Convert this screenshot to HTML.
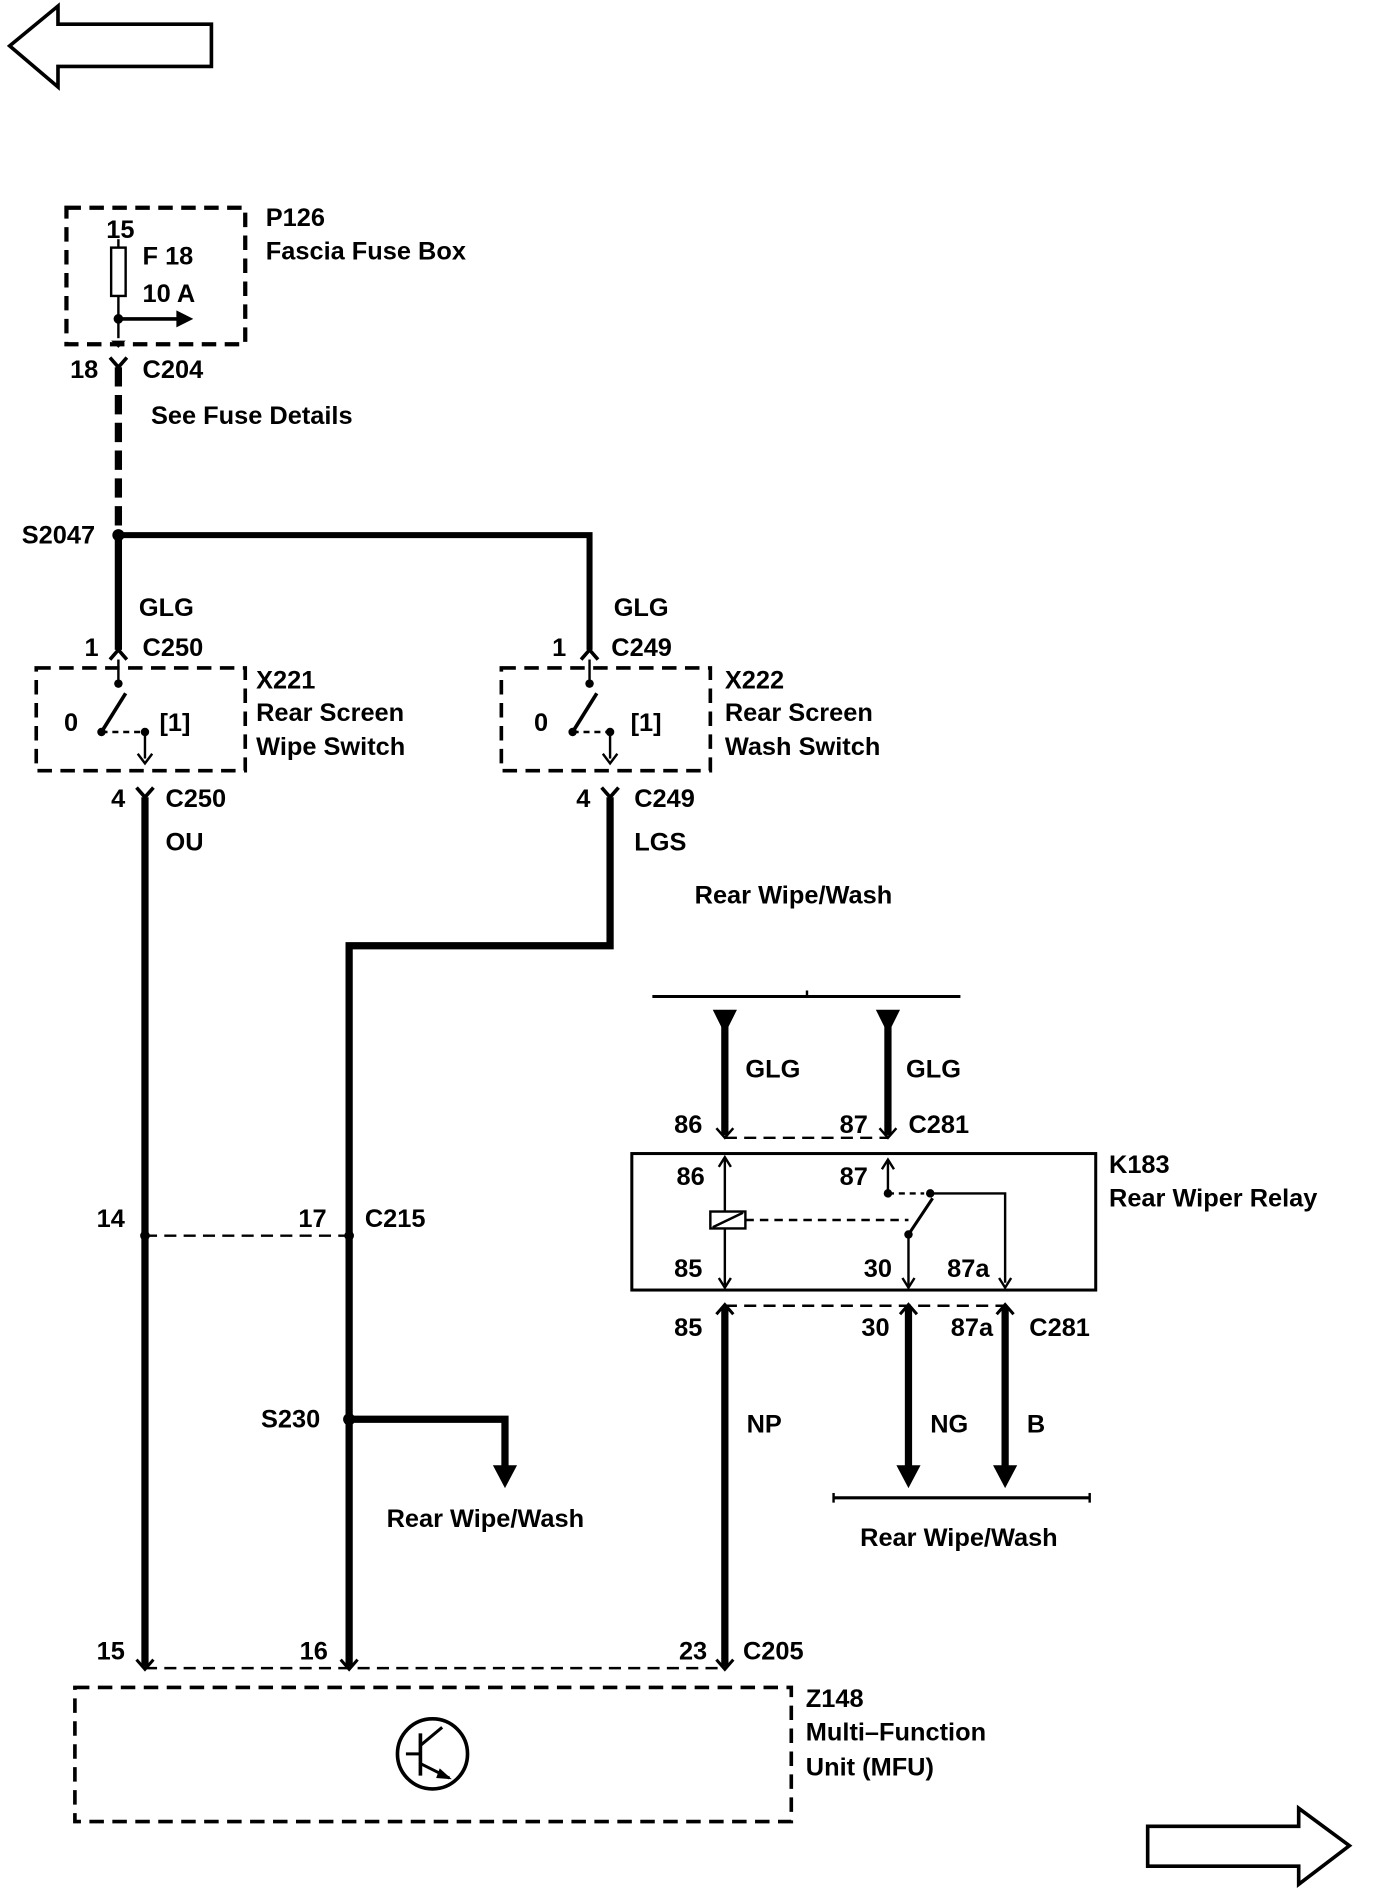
<!DOCTYPE html>
<html><head><meta charset="utf-8"><style>
html,body{margin:0;padding:0;background:#fff;}
svg{display:block;}
text{font-family:"Liberation Sans",Arial,sans-serif;font-weight:bold;font-size:21px;fill:#000;}
</style></head><body>
<svg width="1376" height="1894" viewBox="0 0 1139 1568" preserveAspectRatio="none" xmlns="http://www.w3.org/2000/svg">
<!-- nav arrows -->
<polygon points="8,38 48,5 48,20 175,20 175,55 48,55 48,72" fill="none" stroke="#000" stroke-width="3"/>
<polygon points="1117,1528 1075,1497 1075,1512 950,1512 950,1545 1075,1545 1075,1560" fill="none" stroke="#000" stroke-width="3"/>

<!-- fuse box -->
<rect x="55" y="172" width="148" height="113" fill="none" stroke="#000" stroke-width="3.5" stroke-dasharray="12,7"/>
<rect x="92" y="205" width="12" height="40" fill="none" stroke="#000" stroke-width="2"/>
<line x1="98" y1="198" x2="98" y2="205" stroke="#000" stroke-width="2"/>
<line x1="98" y1="245" x2="98" y2="280" stroke="#000" stroke-width="2"/>
<circle cx="98" cy="264" r="4" fill="#000"/>
<line x1="98" y1="264" x2="150" y2="264" stroke="#000" stroke-width="3"/>
<polygon points="160,264 146,257 146,271" fill="#000"/>
<polygon points="98,288 92,282 104,282" fill="#000"/>
<text x="88" y="197">15</text><text x="118" y="219">F 18</text><text x="118" y="250">10 A</text>
<text x="220" y="187">P126</text><text x="220" y="215">Fascia Fuse Box</text>
<!-- C204 -->
<path d="M91,296 L98,304 L105,296" fill="none" stroke="#000" stroke-width="3"/>
<text x="58" y="313">18</text><text x="118" y="313">C204</text>
<line x1="98" y1="304" x2="98" y2="440" stroke="#000" stroke-width="6" stroke-dasharray="16,7"/>
<text x="125" y="351">See Fuse Details</text>
<!-- S2047 -->
<circle cx="98" cy="443" r="5" fill="#000"/>
<text x="18" y="450">S2047</text>
<polyline points="98,443 488,443 488,538" fill="none" stroke="#000" stroke-width="5"/>
<line x1="98" y1="443" x2="98" y2="538" stroke="#000" stroke-width="6"/>
<text x="115" y="510">GLG</text><text x="508" y="510">GLG</text>
<!-- C250 / C249 top -->
<path d="M91,546 L98,538 L105,546" fill="none" stroke="#000" stroke-width="3"/>
<path d="M481,546 L488,538 L495,546" fill="none" stroke="#000" stroke-width="3"/>
<text x="70" y="543">1</text><text x="118" y="543">C250</text>
<text x="457" y="543">1</text><text x="506" y="543">C249</text>

<!-- switch X221 -->
<g>
<rect x="30" y="553" width="173" height="85" fill="none" stroke="#000" stroke-width="3" stroke-dasharray="12,7"/>
<line x1="98" y1="546" x2="98" y2="566" stroke="#000" stroke-width="2"/>
<circle cx="98" cy="566" r="3.5" fill="#000"/>
<line x1="84" y1="606" x2="104" y2="574" stroke="#000" stroke-width="3"/>
<circle cx="84" cy="606" r="3.5" fill="#000"/>
<line x1="84" y1="606" x2="120" y2="606" stroke="#000" stroke-width="2" stroke-dasharray="5,4"/>
<circle cx="120" cy="606" r="3.5" fill="#000"/>
<line x1="120" y1="606" x2="120" y2="628" stroke="#000" stroke-width="2"/>
<path d="M114,624 L120,632 L126,624" fill="none" stroke="#000" stroke-width="2"/>
<text x="53" y="605">0</text><text x="132" y="605">[1]</text>
</g>
<text x="212" y="570">X221</text><text x="212" y="597">Rear Screen</text><text x="212" y="625">Wipe Switch</text>
<g transform="translate(385,0)">
<rect x="30" y="553" width="173" height="85" fill="none" stroke="#000" stroke-width="3" stroke-dasharray="12,7"/>
<line x1="103" y1="546" x2="103" y2="566" stroke="#000" stroke-width="2"/>
<circle cx="103" cy="566" r="3.5" fill="#000"/>
<line x1="89" y1="606" x2="109" y2="574" stroke="#000" stroke-width="3"/>
<circle cx="89" cy="606" r="3.5" fill="#000"/>
<line x1="89" y1="606" x2="120" y2="606" stroke="#000" stroke-width="2" stroke-dasharray="5,4"/>
<circle cx="120" cy="606" r="3.5" fill="#000"/>
<line x1="120" y1="606" x2="120" y2="628" stroke="#000" stroke-width="2"/>
<path d="M114,624 L120,632 L126,624" fill="none" stroke="#000" stroke-width="2"/>
<text x="57" y="605">0</text><text x="137" y="605">[1]</text>
</g>
<text x="600" y="570">X222</text><text x="600" y="597">Rear Screen</text><text x="600" y="625">Wash Switch</text>

<!-- C250/C249 bottom -->
<path d="M113,652 L120,660 L127,652" fill="none" stroke="#000" stroke-width="3"/>
<path d="M498,652 L505,660 L512,652" fill="none" stroke="#000" stroke-width="3"/>
<text x="92" y="668">4</text><text x="137" y="668">C250</text><text x="137" y="704">OU</text>
<text x="477" y="668">4</text><text x="525" y="668">C249</text><text x="525" y="704">LGS</text>
<line x1="120" y1="660" x2="120" y2="1380" stroke="#000" stroke-width="6"/>
<polyline points="505,660 505,783 289,783 289,1380" fill="none" stroke="#000" stroke-width="6"/>
<text x="575" y="748">Rear Wipe/Wash</text>

<!-- relay top -->
<line x1="540" y1="825" x2="795" y2="825" stroke="#000" stroke-width="2.5"/>
<line x1="668" y1="820" x2="668" y2="825" stroke="#000" stroke-width="2"/>
<polygon points="590,836 610,836 600,856" fill="#000"/>
<polygon points="725,836 745,836 735,856" fill="#000"/>
<line x1="600" y1="845" x2="600" y2="940" stroke="#000" stroke-width="6"/>
<line x1="735" y1="845" x2="735" y2="940" stroke="#000" stroke-width="6"/>
<text x="617" y="892">GLG</text><text x="750" y="892">GLG</text>
<path d="M593,934 L600,942 L607,934" fill="none" stroke="#000" stroke-width="2"/>
<path d="M728,934 L735,942 L742,934" fill="none" stroke="#000" stroke-width="2"/>
<line x1="600" y1="942" x2="735" y2="942" stroke="#000" stroke-width="2" stroke-dasharray="10,6"/>
<text x="558" y="938">86</text><text x="695" y="938">87</text><text x="752" y="938">C281</text>

<!-- relay box -->
<rect x="523" y="955" width="384" height="113" fill="none" stroke="#000" stroke-width="2.5"/>
<text x="918" y="971">K183</text><text x="918" y="999">Rear Wiper Relay</text>
<text x="560" y="981">86</text><text x="695" y="981">87</text>
<text x="558" y="1057">85</text><text x="715" y="1057">30</text><text x="784" y="1057">87a</text>
<path d="M595,966 L600,958 L605,966" fill="none" stroke="#000" stroke-width="2"/>
<line x1="600" y1="960" x2="600" y2="1003" stroke="#000" stroke-width="2"/>
<rect x="588" y="1003" width="29" height="14" fill="none" stroke="#000" stroke-width="2"/>
<line x1="590" y1="1016" x2="615" y2="1004" stroke="#000" stroke-width="2"/>
<line x1="600" y1="1017" x2="600" y2="1064" stroke="#000" stroke-width="2"/>
<path d="M595,1058 L600,1066 L605,1058" fill="none" stroke="#000" stroke-width="2"/>
<line x1="617" y1="1010" x2="752" y2="1010" stroke="#000" stroke-width="2" stroke-dasharray="7,5"/>
<path d="M730,968 L735,960 L740,968" fill="none" stroke="#000" stroke-width="2"/>
<line x1="735" y1="962" x2="735" y2="988" stroke="#000" stroke-width="2"/>
<circle cx="735" cy="988" r="3.5" fill="#000"/>
<line x1="735" y1="988" x2="765" y2="988" stroke="#000" stroke-width="2" stroke-dasharray="5,4"/>
<line x1="752" y1="1022" x2="772" y2="992" stroke="#000" stroke-width="2.5"/>
<circle cx="752" cy="1022" r="3.5" fill="#000"/>
<circle cx="770" cy="988" r="3.5" fill="#000"/>
<polyline points="770,988 832,988 832,1062" fill="none" stroke="#000" stroke-width="2"/>
<line x1="752" y1="1022" x2="752" y2="1064" stroke="#000" stroke-width="2"/>
<path d="M747,1058 L752,1066 L757,1058" fill="none" stroke="#000" stroke-width="2"/>
<path d="M827,1058 L832,1066 L837,1058" fill="none" stroke="#000" stroke-width="2"/>

<!-- relay bottom -->
<path d="M593,1088 L600,1080 L607,1088" fill="none" stroke="#000" stroke-width="2.5"/>
<path d="M745,1088 L752,1080 L759,1088" fill="none" stroke="#000" stroke-width="2.5"/>
<path d="M825,1088 L832,1080 L839,1088" fill="none" stroke="#000" stroke-width="2.5"/>
<line x1="600" y1="1081" x2="832" y2="1081" stroke="#000" stroke-width="2" stroke-dasharray="10,6"/>
<text x="558" y="1106">85</text><text x="713" y="1106">30</text><text x="787" y="1106">87a</text><text x="852" y="1106">C281</text>
<line x1="600" y1="1082" x2="600" y2="1380" stroke="#000" stroke-width="6"/>
<line x1="752" y1="1082" x2="752" y2="1215" stroke="#000" stroke-width="6"/>
<line x1="832" y1="1082" x2="832" y2="1215" stroke="#000" stroke-width="6"/>
<polygon points="742,1213 762,1213 752,1232" fill="#000"/>
<polygon points="822,1213 842,1213 832,1232" fill="#000"/>
<text x="618" y="1186">NP</text><text x="770" y="1186">NG</text><text x="850" y="1186">B</text>
<line x1="690" y1="1240" x2="902" y2="1240" stroke="#000" stroke-width="2.5"/>
<line x1="690" y1="1236" x2="690" y2="1244" stroke="#000" stroke-width="2"/>
<line x1="902" y1="1236" x2="902" y2="1244" stroke="#000" stroke-width="2"/>
<text x="712" y="1280">Rear Wipe/Wash</text>

<!-- C215 -->
<text x="80" y="1016">14</text><text x="247" y="1016">17</text><text x="302" y="1016">C215</text>
<line x1="120" y1="1023" x2="289" y2="1023" stroke="#000" stroke-width="2" stroke-dasharray="10,6"/>
<circle cx="120" cy="1023" r="4" fill="#000"/><circle cx="289" cy="1023" r="4" fill="#000"/>
<!-- S230 -->
<circle cx="289" cy="1175" r="5" fill="#000"/>
<text x="216" y="1182">S230</text>
<polyline points="289,1175 418,1175 418,1215" fill="none" stroke="#000" stroke-width="6"/>
<polygon points="408,1213 428,1213 418,1232" fill="#000"/>
<text x="320" y="1264">Rear Wipe/Wash</text>

<!-- C205 -->
<text x="80" y="1374">15</text><text x="248" y="1374">16</text><text x="562" y="1374">23</text><text x="615" y="1374">C205</text>
<line x1="120" y1="1381" x2="600" y2="1381" stroke="#000" stroke-width="2" stroke-dasharray="10,6"/>
<path d="M113,1374 L120,1382 L127,1374" fill="none" stroke="#000" stroke-width="2.5"/>
<path d="M282,1374 L289,1382 L296,1374" fill="none" stroke="#000" stroke-width="2.5"/>
<path d="M593,1374 L600,1382 L607,1374" fill="none" stroke="#000" stroke-width="2.5"/>

<!-- MFU -->
<rect x="62" y="1397" width="593" height="111" fill="none" stroke="#000" stroke-width="3" stroke-dasharray="12,7"/>
<circle cx="358" cy="1452" r="29" fill="none" stroke="#000" stroke-width="3"/>
<line x1="348" y1="1435" x2="348" y2="1470" stroke="#000" stroke-width="3"/>
<line x1="336" y1="1452" x2="348" y2="1452" stroke="#000" stroke-width="2.5"/>
<line x1="348" y1="1445" x2="366" y2="1430" stroke="#000" stroke-width="2.5"/>
<line x1="348" y1="1460" x2="372" y2="1472" stroke="#000" stroke-width="2.5"/>
<polygon points="374,1473 364,1464 361,1472" fill="#000"/>
<text x="667" y="1413">Z148</text><text x="667" y="1441">Multi–Function</text><text x="667" y="1470">Unit (MFU)</text>
</svg>
</body></html>
